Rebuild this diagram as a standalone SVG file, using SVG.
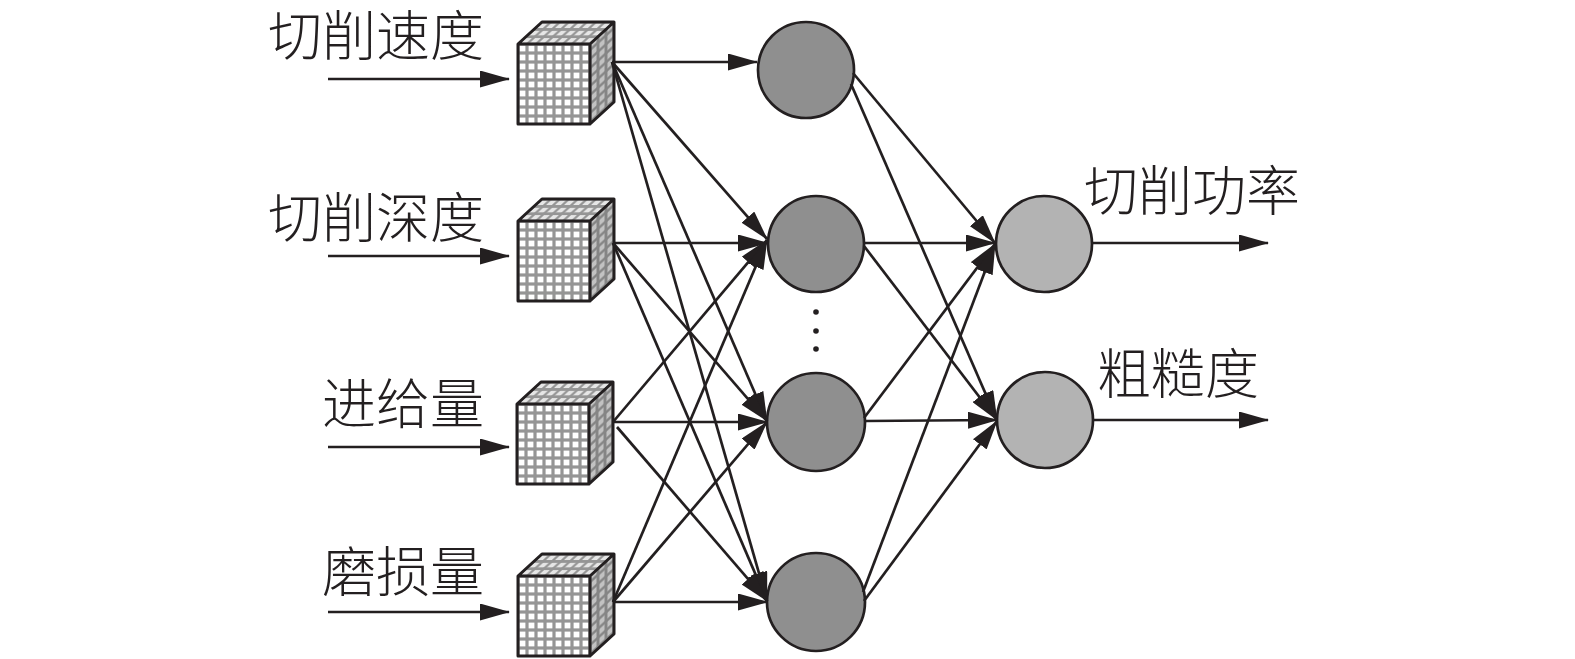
<svg xmlns="http://www.w3.org/2000/svg" xmlns:xlink="http://www.w3.org/1999/xlink" width="1575" height="659" viewBox="0 0 1575 659">
<style>
.lbl{font-family:"Noto Sans CJK SC","Noto Sans CJK JP",sans-serif;font-size:54px;font-weight:300;fill:#231f20}
.ln{stroke:#231f20;stroke-width:2.7;fill:none;marker-end:url(#ah)}
.hid{fill:#8f8f8f;stroke:#231f20;stroke-width:2.7}
.out{fill:#b3b3b3;stroke:#231f20;stroke-width:2.7}
.edge{fill:none;stroke:#231f20;stroke-width:3;stroke-linejoin:round}
</style>
<defs>
<marker id="ah" markerUnits="userSpaceOnUse" markerWidth="30" markerHeight="17" refX="29" refY="8.5" orient="auto" viewBox="0 0 30 17">
<path d="M0,0 L30,8.5 L0,17 Z" fill="#231f20"/>
</marker>
<pattern id="pf" patternUnits="userSpaceOnUse" width="9" height="9" x="0" y="0">
<rect width="9" height="9" fill="#959595"/>
<rect x="1.6" y="1.6" width="5.8" height="5.8" fill="#ffffff"/>
</pattern>
<pattern id="pt" patternUnits="userSpaceOnUse" width="9" height="7.3" patternTransform="skewX(-47.5)">
<rect width="9" height="7.3" fill="#959595"/>
<rect x="1.6" y="1.4" width="5.8" height="4.6" fill="#e6e6e6"/>
</pattern>
<pattern id="pr" patternUnits="userSpaceOnUse" width="8" height="9" patternTransform="skewY(-42.5)">
<rect width="8" height="9" fill="#858585"/>
<rect x="1.5" y="1.6" width="5" height="5.8" fill="#c2c2c2"/>
</pattern>
<g id="cube">
<rect x="0" y="0" width="72" height="80" fill="url(#pf)"/>
<path d="M0,0 L24,-22 L96,-22 L72,0 Z" fill="url(#pt)"/>
<path d="M72,0 L96,-22 L96,58 L72,80 Z" fill="url(#pr)"/>
<path class="edge" d="M0,0 L72,0 L72,80 L0,80 Z M0,0 L24,-22 L96,-22 L72,0 M96,-22 L96,58 L72,80"/>
</g>
</defs>
<rect width="1575" height="659" fill="#ffffff"/>

<g id="labels">
<text class="lbl" x="484" y="56" text-anchor="end">切削速度</text>
<text class="lbl" x="484" y="238" text-anchor="end">切削深度</text>
<text class="lbl" x="484" y="424" text-anchor="end">进给量</text>
<text class="lbl" x="484" y="592" text-anchor="end">磨损量</text>
<text class="lbl" x="1084" y="211">切削功率</text>
<text class="lbl" x="1097" y="394">粗糙度</text>
</g>

<g id="in1"><use xlink:href="#cube" href="#cube" transform="translate(518,44)"/></g>
<g id="in2"><use xlink:href="#cube" href="#cube" transform="translate(518,221)"/></g>
<g id="in3"><use xlink:href="#cube" href="#cube" transform="translate(517,404)"/></g>
<g id="in4"><use xlink:href="#cube" href="#cube" transform="translate(518,576)"/></g>

<g id="h1"><circle class="hid" cx="806" cy="70" r="48"/></g>
<g id="h2"><circle class="hid" cx="816" cy="244" r="48"/></g>
<g id="h3"><circle class="hid" cx="816" cy="422" r="49"/></g>
<g id="h4"><circle class="hid" cx="816" cy="602" r="49"/></g>
<g id="dots" fill="#231f20">
<circle cx="816" cy="312" r="2.8"/><circle cx="816" cy="331" r="2.8"/><circle cx="816" cy="349" r="2.8"/>
</g>
<g id="o1"><circle class="out" cx="1044" cy="244" r="48"/></g>
<g id="o2"><circle class="out" cx="1045" cy="420" r="48"/></g>

<g id="connectors">
<line class="ln" x1="328" y1="79" x2="509" y2="79"/>
<line class="ln" x1="328" y1="256" x2="509" y2="256"/>
<line class="ln" x1="328" y1="447" x2="509" y2="447"/>
<line class="ln" x1="328" y1="612" x2="509" y2="612"/>

<line class="ln" x1="612" y1="62" x2="757" y2="62"/>
<line class="ln" x1="612" y1="62" x2="767" y2="239"/>
<line class="ln" x1="612" y1="62" x2="767" y2="421"/>
<line class="ln" x1="612" y1="62" x2="767" y2="601"/>

<line class="ln" x1="613" y1="243" x2="767" y2="243"/>
<line class="ln" x1="613" y1="243" x2="767" y2="421"/>
<line class="ln" x1="613" y1="243" x2="767" y2="601"/>

<line class="ln" x1="613" y1="422" x2="767" y2="240"/>
<line class="ln" x1="613" y1="422" x2="767" y2="422"/>
<line class="ln" x1="617" y1="427" x2="767" y2="601"/>

<line class="ln" x1="613" y1="602" x2="767" y2="240"/>
<line class="ln" x1="613" y1="602" x2="767" y2="422"/>
<line class="ln" x1="613" y1="602" x2="767" y2="602"/>

<line class="ln" x1="853" y1="73" x2="995" y2="243"/>
<line class="ln" x1="851" y1="84" x2="997" y2="420"/>
<line class="ln" x1="864" y1="243" x2="995" y2="243"/>
<line class="ln" x1="864" y1="246" x2="997" y2="420"/>
<line class="ln" x1="864" y1="418" x2="995" y2="244"/>
<line class="ln" x1="865" y1="421" x2="997" y2="420"/>
<line class="ln" x1="863" y1="592" x2="995" y2="245"/>
<line class="ln" x1="864" y1="601" x2="997" y2="421"/>

<line class="ln" x1="1092" y1="243" x2="1268" y2="243"/>
<line class="ln" x1="1093" y1="420" x2="1268" y2="420"/>
</g>
</svg>
